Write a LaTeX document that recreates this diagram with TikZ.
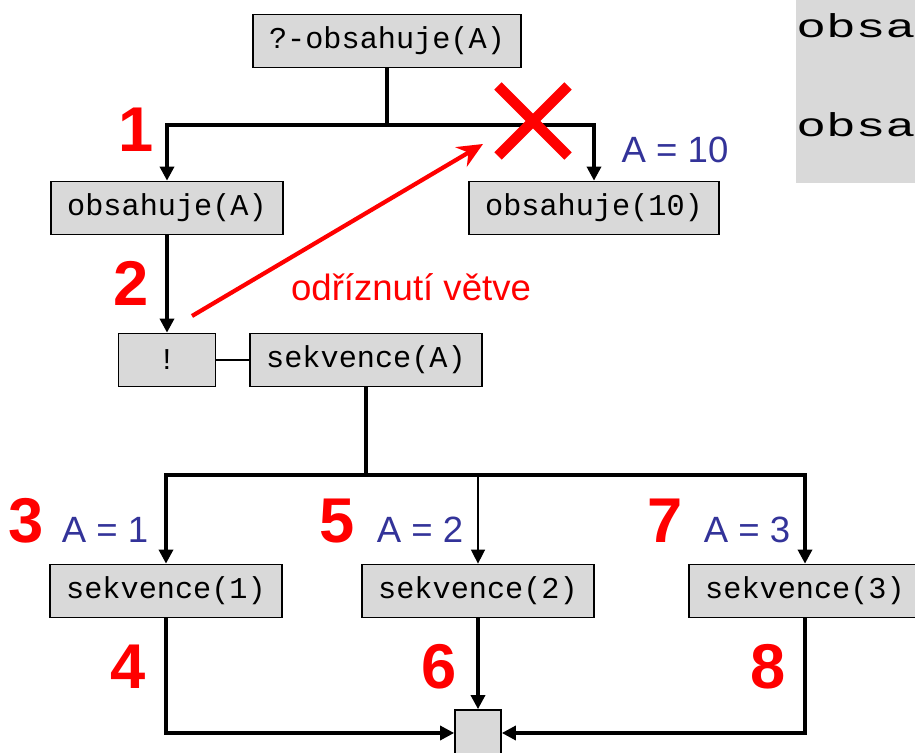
\documentclass[tikz,border=0pt]{standalone}
\usepackage{fontspec}
\setmainfont{Liberation Sans}
\newfontfamily\monofont{Liberation Mono}
\usetikzlibrary{arrows.meta}
\definecolor{cutRed}{HTML}{FF0000}
\definecolor{valBlue}{HTML}{333399}
\definecolor{boxGray}{HTML}{D9D9D9}
\newcommand{\widemono}[1]{\scalebox{1.5}[1]{#1}}

\begin{document}
\begin{tikzpicture}[x=0.025cm, y=-0.025cm,
        box/.style={draw, line width=1.2pt, fill=boxGray, minimum height=1.325cm,
                    inner xsep=0.4cm, font=\monofont\fontsize{21.5}{24}\selectfont},
        link/.style={line width=2.3pt},
        flow/.style={line width=2.3pt, -{Triangle[length=10pt,width=10pt]}},
        thinlink/.style={line width=1pt},
        stepnum/.style={text=cutRed, anchor=base,
                        font=\fontsize{45}{50}\selectfont\bfseries},
        binding/.style={text=valBlue, anchor=base, font=\fontsize{26}{30}\selectfont},
        sidetext/.style={anchor=base west, inner sep=0,
                         font=\monofont\fontsize{23.5}{26}\selectfont}
      ]
      \useasboundingbox (0,0) rectangle (915,753);
      \clip (0,0) rectangle (915,753);

      \fill[boxGray] (796,-10) rectangle (930,183);
      \node[sidetext] (side1) at (796,38) {\widemono{obsa}};
      \node[sidetext] (side2) at (796,137) {\widemono{obsa}};

      \node[box] (goal)  at (387,41)  {?-obsahuje(A)};
      \node[box] (obsA)  at (167,208) {obsahuje(A)};
      \node[box] (obs10) at (594,208) {obsahuje(10)};
      \node[box, minimum width=2.425cm] (cut) at (167,360) {!};
      \node[box] (sekA)  at (366,360) {sekvence(A)};
      \node[box] (sek1)  at (166,591) {sekvence(1)};
      \node[box] (sek2)  at (478,591) {sekvence(2)};
      \node[box] (sek3)  at (805,591) {sekvence(3)};
      \node[box, minimum width=1.15cm, minimum height=1.6cm, inner sep=0] (end) at (478,742) {};

      \coordinate (fork1) at (387,125);
      \coordinate (fork2) at (366,475);
      \draw[link] (goal) -- (fork1);
      \draw[flow] (fork1) -| (obsA);
      \draw[flow] (fork1) -| (obs10);
      \draw[flow] (obsA) -- (cut);
      \draw[thinlink] (cut) -- (sekA);
      \draw[link] (sekA) -- (fork2);
      \draw[flow] (fork2) -| (sek1);
      \draw[flow] (fork2) -| (sek3);
      \draw[flow, line width=1pt] (sek2 |- fork2) -- (sek2);
      \draw[flow] (sek1) |- ([yshift=0.225cm]end.west);
      \draw[flow] (sek2) -- (end);
      \draw[flow] (sek3) |- ([yshift=0.225cm]end.east);

      \coordinate (cross) at (533,121);
      \draw[cutRed, line width=7.5pt] (cross) +(-35,-35) -- +(35,35) +(-35,35) -- +(35,-35);
      \coordinate (cutFrom) at (192,316);
      \coordinate (cutTo) at (483,144);
      \draw[cutRed, line width=3pt, -{Stealth[length=18pt,width=16pt,inset=6pt]}] (cutFrom) -- (cutTo);
      \node[text=cutRed, anchor=base, font=\fontsize{26}{30}\selectfont] (cutlabel) at (411,301) {odříznutí větve};

      \node[stepnum] (n1) at (136,152) {1};
      \node[binding] (a10) at (675,163) {A = 10};
      \node[stepnum] (n2) at (131,306) {2};
      \node[stepnum] (n3) at (26,543) {3};
      \node[binding] (a1) at (105,543) {A = 1};
      \node[stepnum] (n5) at (337,543) {5};
      \node[binding] (a2) at (420,543) {A = 2};
      \node[stepnum] (n7) at (665,543) {7};
      \node[binding] (a3) at (747,543) {A = 3};
      \node[stepnum] (n4) at (128,688) {4};
      \node[stepnum] (n6) at (439,688) {6};
      \node[stepnum] (n8) at (768,688) {8};
    \end{tikzpicture}
\end{document}
